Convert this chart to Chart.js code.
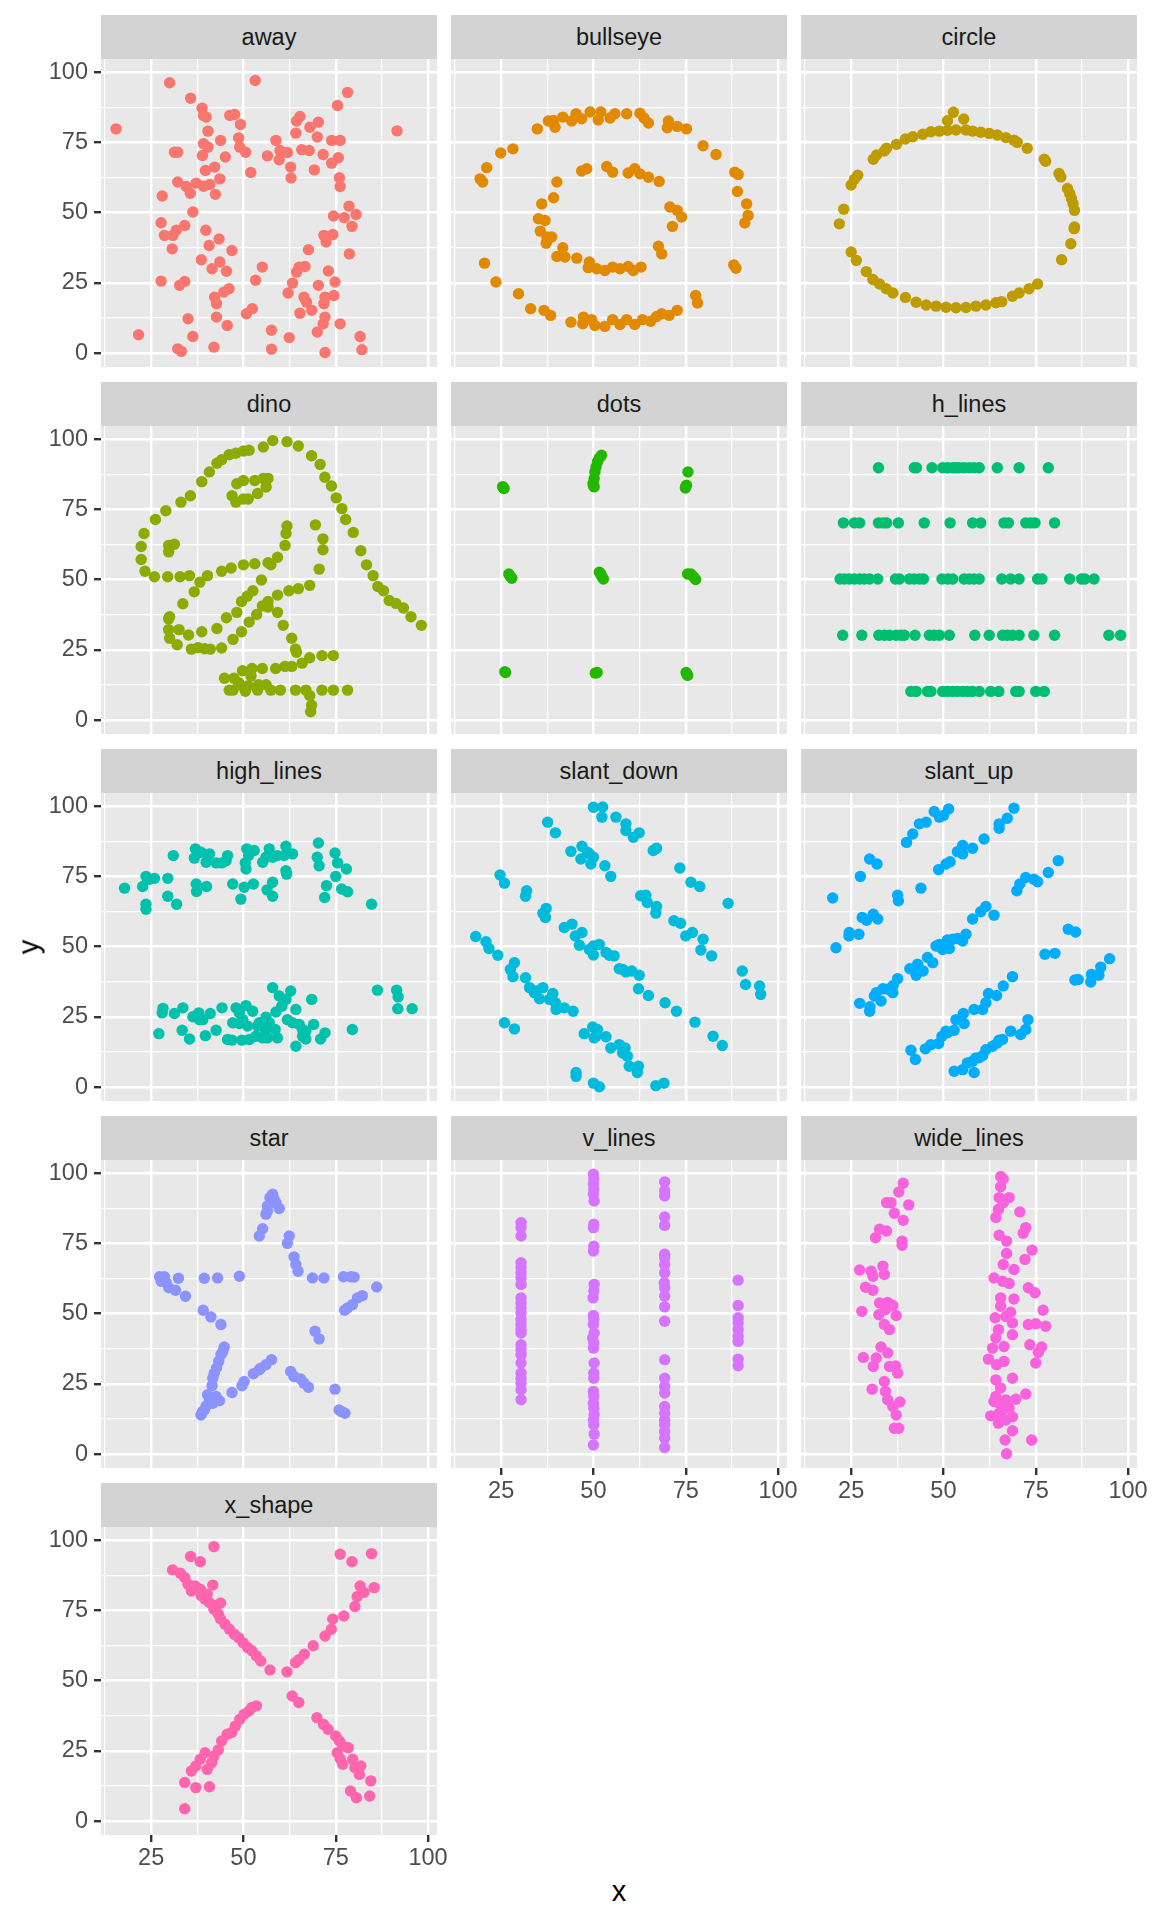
<!DOCTYPE html>
<html>
<head>
<meta charset="utf-8">
<script src="https://cdn.jsdelivr.net/npm/chart.js@4.4.1/dist/chart.umd.min.js"></script>
<style>
  html, body { margin: 0; padding: 0; background: #fff; }
  #page { position: relative; width: 1152px; height: 1920px; font-family: "Liberation Sans", Arial, sans-serif; overflow: hidden; }
  .strip { position: absolute; background: #D3D3D3; color: #1A1A1A; font-size: 23.5px; text-align: center; }
  canvas { position: absolute; }
  .axis-title { position: absolute; color: #000; font-size: 29px; line-height: 1; }
</style>
</head>
<body>
<div id="page"></div>
<script>
// facet names, in panel order
const panels = ['away', 'bullseye', 'circle', 'dino', 'dots', 'h_lines', 'high_lines',
  'slant_down', 'slant_up', 'star', 'v_lines', 'wide_lines', 'x_shape'];

const xTicks = [25, 50, 75, 100];
const yTicks = [0, 25, 50, 75, 100];

// points as [x, y]
const away = [[15.5,79.8],[21.6,6.5],[30.0,96.2],[35.7,90.7],[38.8,87.2],[39.2,84.6],[39.9,84.0],[40.4,79.0],[39.2,74.5],[40.4,73.3],[38.9,70.3],[39.7,65.0],[42.2,66.2],[43.6,62.0],[42.4,56.5],[43.8,75.7],[45.1,69.8],[46.3,84.6],[47.6,84.9],[49.2,81.4],[48.7,76.6],[49.0,73.3],[50.6,71.5],[52.0,64.3],[53.2,97.0],[56.5,70.2],[58.8,75.7],[59.9,72.1],[59.7,68.8],[61.9,71.4],[62.8,66.2],[62.9,62.3],[64.2,78.3],[65.3,84.2],[64.4,82.6],[65.8,72.4],[67.8,72.1],[68.0,80.4],[70.3,82.2],[70.0,76.9],[69.2,65.2],[71.6,70.7],[73.9,75.7],[76.2,75.7],[73.9,67.6],[75.7,69.5],[75.5,88.1],[78.2,92.8],[76.0,62.4],[76.2,59.3],[78.6,52.3],[80.5,49.3],[77.3,48.2],[79.4,45.1],[74.4,48.8],[78.7,35.3],[73.0,29.2],[74.2,42.2],[72.4,39.5],[71.8,41.9],[74.8,25.3],[74.5,20.5],[72.1,19.9],[71.8,17.6],[70.3,24.1],[67.6,36.8],[66.7,30.8],[65.1,30.6],[64.4,28.8],[63.3,24.9],[62.1,21.4],[66.4,19.9],[67.1,18.1],[65.3,14.2],[68.5,15.2],[72.1,12.8],[71.6,10.4],[70.0,7.5],[72.1,0.2],[76.2,10.4],[81.6,5.9],[82.1,1.2],[62.4,5.5],[57.6,8.1],[57.6,1.4],[50.8,14.0],[52.4,15.8],[55.1,30.6],[53.3,25.9],[46.9,36.5],[45.4,29.1],[43.6,32.4],[41.5,30.0],[38.6,33.2],[40.7,38.3],[39.8,43.7],[43.4,40.6],[42.2,19.9],[42.7,17.6],[44.7,21.7],[46.1,22.9],[42.7,12.8],[45.6,9.8],[42.0,2.1],[36.3,5.9],[35.0,12.2],[33.2,0.6],[32.2,1.5],[32.7,24.1],[34.1,25.5],[27.7,25.6],[30.7,37.1],[30.9,41.9],[28.6,41.9],[27.7,46.4],[31.8,43.7],[34.1,45.4],[28.0,55.9],[32.2,60.9],[34.5,59.3],[35.6,56.9],[36.3,50.2],[37.2,60.5],[39.2,59.4],[40.9,60.0],[31.3,71.5],[32.2,71.5],[91.6,79.1]];

const bullseye = [[34.8,79.8],[37.8,82.6],[39.6,80.4],[39.2,82.8],[41.7,84.0],[44.1,82.6],[45.3,85.2],[46.8,83.4],[49.1,85.8],[51.3,83.0],[52.0,85.8],[54.5,83.7],[55.8,85.2],[59.0,85.2],[62.6,85.4],[63.7,83.7],[64.9,81.9],[70.3,82.6],[70.0,80.2],[72.7,80.7],[75.2,79.8],[79.7,73.8],[83.2,70.7],[88.3,64.4],[89.2,63.6],[89.0,57.5],[91.5,53.1],[91.9,49.0],[91.0,46.3],[88.0,31.4],[88.6,30.2],[77.7,20.5],[78.2,17.8],[72.7,15.2],[70.5,13.4],[68.5,14.0],[67.1,13.0],[65.5,11.3],[63.3,11.9],[61.2,10.2],[59.0,11.9],[57.2,10.2],[55.2,11.9],[53.1,9.5],[50.4,9.8],[49.5,11.9],[47.3,12.8],[47.1,10.4],[43.9,11.0],[38.4,13.4],[36.6,15.2],[33.0,15.8],[29.7,21.1],[23.6,25.3],[20.5,32.0],[20.0,60.9],[19.3,62.0],[21.1,66.0],[24.9,71.2],[28.2,72.7],
  [40.1,60.9],[39.2,55.3],[36.0,53.1],[35.1,47.8],[36.9,47.2],[35.6,43.4],[37.4,41.3],[38.7,41.3],[37.2,39.1],[40.1,34.4],[41.7,37.5],[42.3,34.2],[45.5,33.8],[48.9,32.4],[48.6,30.4],[50.9,30.0],[53.1,29.4],[55.2,30.6],[57.2,30.0],[59.4,30.8],[60.8,29.4],[62.9,30.6],[67.6,38.0],[68.5,35.3],[71.4,45.1],[73.9,48.4],[70.7,52.0],[72.7,50.8],[67.8,61.1],[64.9,62.6],[62.6,63.8],[61.2,65.6],[59.4,64.1],[55.2,64.4],[53.6,66.4],[48.2,65.6],[46.8,64.8]];

const circle = [[52.7,85.7],[55.5,83.3],[51.1,82.7],[37.3,74.3],[34.6,72.9],[34.0,71.9],[31.9,70.5],[31.0,69.0],[39.7,76.2],[41.7,77.0],[44.4,77.9],[46.6,78.8],[48.9,79.0],[51.1,79.3],[53.4,79.4],[56.1,79.4],[57.9,79.0],[60.1,78.6],[62.4,78.2],[64.6,77.6],[66.9,76.7],[69.1,75.8],[70.0,75.0],[72.7,72.9],[77.3,69.0],[77.7,68.3],[81.3,63.9],[81.8,62.7],[83.6,58.6],[84.2,56.8],[84.7,55.0],[85.1,53.2],[85.5,50.8],[85.5,44.9],[85.4,44.3],[84.5,38.9],[82.0,33.2],[26.8,63.3],[25.9,61.9],[25.0,59.8],[23.0,51.2],[21.8,46.0],[25.0,36.0],[26.4,33.0],[29.1,29.0],[30.9,26.2],[32.7,24.6],[34.5,22.9],[36.3,21.4],[39.7,19.8],[42.6,18.1],[45.3,17.1],[48.0,16.7],[50.7,16.3],[53.4,16.1],[56.1,16.2],[58.8,16.7],[61.5,17.1],[64.2,17.9],[65.8,18.3],[68.7,20.2],[70.5,21.4],[73.2,22.9],[75.5,24.6]];

const dino = [[55.3846,97.1795],[51.5385,96.0256],[46.1538,94.4872],[42.8205,91.4103],[40.7692,88.3333],[38.7179,84.8718],[35.641,79.8718],[33.0769,77.5641],[28.9744,74.4872],[26.1538,71.4103],[23.0769,66.4103],[22.3077,61.7949],[22.3077,57.1795],[23.3333,52.9487],[25.8974,51.0256],[29.4872,51.0256],[32.8205,51.0256],[35.3846,51.4103],[40.2564,51.4103],[44.1026,52.9487],[46.6667,54.1026],[50.0,55.2564],[53.0769,55.641],[56.6667,56.0256],[59.2308,57.9487],[61.2821,62.1795],[61.5385,66.4103],[61.7949,69.1026],[57.4359,55.2564],[54.8718,49.8718],[52.5641,46.0256],[48.2051,38.3333],[49.4872,42.1795],[51.0256,44.1026],[45.3846,36.4103],[42.8205,32.5641],[38.7179,31.4103],[35.1282,30.2564],[32.5641,32.1795],[30.0,36.7949],[33.5897,41.4103],[36.6667,45.641],[38.2051,49.1026],[29.7436,36.0256],[29.7436,32.1795],[30.0,29.1026],[32.0513,26.7949],[35.8974,25.2564],[41.0256,25.2564],[44.1026,25.641],[47.1795,28.718],[49.4872,31.4103],[51.5385,34.8718],[53.5897,37.5641],[55.1282,40.641],[56.6667,42.1795],[59.2308,44.4872],[62.3077,46.0256],[64.8718,46.7949],[67.9487,47.9487],[70.5128,53.718],[71.5385,60.641],[71.5385,64.4872],[69.4872,69.4872],[46.9231,79.8718],[48.2051,84.1026],[50.0,85.2564],[53.0769,85.2564],[55.3846,86.0256],[56.6667,86.0256],[56.1538,82.9487],[53.8462,80.641],[51.2821,78.718],[50.0,78.718],[47.9487,77.5641],[29.7436,59.8718],[29.7436,62.1795],[31.2821,62.5641],[57.9487,99.4872],[61.7949,99.1026],[64.8718,97.5641],[68.4615,94.1026],[70.7692,91.0256],[72.0513,86.4103],[73.8462,83.3333],[75.1282,79.1026],[76.6667,75.2564],[77.6923,71.4103],[79.7436,66.7949],[81.7949,60.2564],[83.3333,55.2564],[85.1282,51.4103],[86.4103,47.5641],[87.9487,46.0256],[89.4872,42.5641],[93.3333,39.8718],[95.3846,36.7949],[98.2051,33.718],[56.6667,40.2564],[59.2308,38.3333],[60.7692,33.718],[63.0769,29.1026],[64.1026,25.2564],[64.359,24.1026],[74.359,22.9487],[71.2821,22.9487],[67.9487,22.1795],[65.8974,20.2564],[63.0769,19.1026],[61.2821,19.1026],[58.7179,18.3333],[55.1282,18.3333],[52.3077,18.3333],[49.7436,17.5641],[47.4359,14.8718],[44.8718,14.8718],[48.7179,12.5641],[51.2821,12.1795],[54.1026,12.5641],[56.1538,12.5641],[52.0513,15.641],[48.7179,13.3333],[47.1795,10.641],[46.1538,10.641],[50.5128,10.2564],[53.8462,10.641],[57.4359,10.641],[60.0,10.641],[64.1026,10.641],[66.9231,10.641],[71.2821,10.641],[74.359,10.641],[78.2051,10.641],[67.9487,8.718],[68.4615,5.2564],[68.2051,2.9487],[37.6923,25.7692],[39.4872,25.3846],[91.2821,41.5385],[50.0,95.7692],[47.9487,95.0],[44.1026,92.6923]];

const dots = [[25.6,82.7],[25.4,83.1],[25.8,82.4],[50.2,83.0],[49.9,84.2],[50.2,86.0],[50.4,88.3],[50.7,90.1],[51.1,91.9],[51.6,93.3],[52.2,94.3],[50.0,83.5],[75.6,88.3],[75.0,83.0],[75.2,83.6],[74.9,82.6],[27.1,52.0],[27.4,51.2],[27.9,50.5],[51.6,52.6],[52.0,52.0],[52.7,50.2],[52.3,51.0],[75.5,52.0],[76.4,52.0],[77.1,51.0],[77.7,50.0],[26.2,16.9],[26.0,17.2],[50.5,16.7],[51.0,16.9],[75.3,16.3],[75.1,16.9],[75.5,15.9]];

const hLines = [[32.4,89.8],[42.1,89.8],[42.7,89.8],[46.9,89.8],[49.8,89.8],[51.1,89.8],[52.5,89.8],[53.4,89.8],[54.3,89.8],[55.6,89.8],[57.0,89.8],[58.3,89.8],[59.7,89.8],[64.6,89.8],[70.5,89.8],[78.4,89.8],
  [22.9,70.2],[25.9,70.2],[27.3,70.2],[32.4,70.2],[33.6,70.2],[34.6,70.2],[37.8,70.2],[44.8,70.2],[51.8,70.2],[57.9,70.2],[60.1,70.2],[66.4,70.2],[67.6,70.2],[72.3,70.2],[73.6,70.2],[74.8,70.2],[80.1,70.2],
  [22.0,50.2],[23.2,50.2],[24.5,50.2],[25.9,50.2],[27.3,50.2],[28.6,50.2],[30.0,50.2],[32.2,50.2],[37.0,50.2],[38.1,50.2],[40.8,50.2],[42.1,50.2],[43.5,50.2],[44.6,50.2],[49.6,50.2],[51.2,50.2],[52.5,50.2],[55.6,50.2],[57.0,50.2],[58.3,50.2],[59.7,50.2],[65.8,50.2],[68.2,50.2],[70.5,50.2],[75.5,50.2],[76.7,50.2],[84.2,50.2],[87.4,50.2],[88.3,50.2],[90.8,50.2],
  [22.7,30.2],[27.9,30.2],[32.5,30.2],[34.0,30.2],[35.4,30.2],[37.2,30.2],[38.5,30.2],[39.4,30.2],[42.3,30.2],[46.2,30.2],[47.5,30.2],[48.9,30.2],[51.6,30.2],[58.5,30.2],[62.4,30.2],[66.0,30.2],[67.3,30.2],[68.7,30.2],[70.5,30.2],[74.5,30.2],[80.1,30.2],[94.8,30.2],[98.0,30.2],
  [41.2,10.2],[42.6,10.2],[45.7,10.2],[46.6,10.2],[49.8,10.2],[51.1,10.2],[52.5,10.2],[53.8,10.2],[55.2,10.2],[56.5,10.2],[57.9,10.2],[59.7,10.2],[62.8,10.2],[65.0,10.2],[69.6,10.2],[70.5,10.2],[75.0,10.2],[77.3,10.2]];

const highLines = [[17.8,70.8],[22.7,71.4],[23.6,75.0],[24.5,74.0],[25.9,74.3],[29.5,74.3],[23.6,65.1],[23.6,63.3],[29.5,67.9],[31.9,65.1],[31.0,82.4],[37.0,84.8],[36.7,81.5],[38.5,83.6],[39.9,80.0],[40.8,83.0],[42.6,79.8],[44.2,79.8],[45.7,82.4],[45.3,80.6],[37.2,72.3],[37.3,69.6],[40.0,71.4],[47.1,72.3],[49.3,66.9],[50.2,71.1],[52.7,72.3],[50.9,84.8],[50.7,77.6],[50.5,79.8],[51.4,82.4],[52.9,84.2],[55.2,80.0],[56.1,81.8],[57.0,84.8],[57.9,81.8],[59.2,82.4],[61.5,85.7],[61.0,82.4],[63.3,83.0],[61.7,75.8],[61.5,77.0],[56.4,70.2],[57.9,72.9],[57.9,67.9],[70.3,86.9],[70.0,81.8],[70.5,78.8],[74.8,83.3],[75.5,79.8],[77.9,77.6],[75.0,75.0],[72.5,71.7],[72.0,67.5],[76.6,70.5],[78.2,69.5],[84.7,65.1],
  [27.1,19.0],[28.2,28.0],[28.0,26.4],[31.3,26.2],[33.6,28.2],[33.4,20.2],[35.4,17.1],[36.3,25.0],[37.9,26.4],[39.0,24.0],[39.7,18.3],[41.0,26.2],[42.6,20.2],[44.2,28.2],[45.7,16.9],[46.9,16.7],[48.0,28.2],[48.9,26.4],[48.9,22.6],[49.6,16.7],[50.7,29.0],[52.5,27.0],[51.1,21.7],[51.6,16.9],[53.4,18.1],[55.2,17.5],[56.1,24.9],[55.9,20.5],[57.0,22.9],[57.9,35.4],[59.7,32.4],[58.8,26.7],[60.4,28.8],[61.5,31.2],[62.8,34.2],[58.6,20.5],[59.2,17.5],[61.9,24.0],[64.2,27.6],[65.1,22.3],[66.0,18.1],[64.2,14.5],[66.9,17.1],[68.5,31.2],[69.0,22.3],[66.9,19.9],[70.9,17.1],[72.1,19.3],[79.5,20.5],[86.3,34.5],[91.5,34.5],[91.9,32.1],[91.8,27.9],[95.7,27.9],
  [47.1,22.9],[49.8,24.0],[54.3,22.9],[56.5,17.5],[53.8,21.7],[38.1,24.0],[63.3,22.9],[66.0,20.5]];

const slantDown = [[50.0,99.6],[52.5,99.7],[52.3,96.1],[56.1,96.1],[58.8,93.7],[58.8,91.3],[60.8,88.9],[62.4,90.5],[66.2,84.2],[67.1,85.0],[73.4,78.0],[76.4,72.9],[78.8,71.4],[86.5,65.4],
  [37.6,94.3],[39.7,90.5],[43.9,83.9],[46.9,85.7],[46.6,81.2],[48.9,83.0],[49.3,79.4],[50.0,81.8],[48.4,83.6],[53.1,78.8],[54.7,75.0],[62.8,68.1],[64.2,68.3],[64.6,65.7],[67.1,64.3],[66.9,61.9],[71.8,59.2],[73.6,58.3],[75.0,53.8],[76.8,55.0],[79.7,52.6],[79.1,48.8],[82.0,46.7],[90.3,41.3],[91.2,36.5],[95.0,36.0],[95.3,33.0],
  [24.7,75.5],[25.9,72.6],[31.9,69.9],[31.6,67.9],[37.2,63.6],[36.3,61.9],[37.0,60.4],[42.1,56.8],[44.2,58.0],[46.9,55.0],[45.1,53.8],[46.2,50.5],[50.0,50.2],[51.6,50.8],[50.0,47.0],[48.9,49.0],[53.4,47.9],[54.3,46.9],[55.6,46.7],[57.0,42.1],[57.9,41.9],[58.8,41.0],[60.4,41.3],[62.4,39.8],[62.2,35.0],[64.9,32.6],[69.4,30.0],[72.5,27.0],[77.5,23.1],[82.4,18.1],[84.9,14.8],
  [18.1,53.6],[20.9,51.7],[21.7,49.3],[24.1,46.9],[28.6,44.3],[27.5,41.9],[28.2,39.3],[31.6,38.9],[32.7,35.4],[34.6,34.2],[34.0,33.6],[36.3,35.4],[35.4,31.4],[39.0,33.3],[38.1,31.2],[39.7,30.0],[39.9,27.6],[42.1,28.2],[44.5,27.0],[25.9,22.9],[28.6,20.7],[47.5,19.0],[49.8,21.4],[51.1,20.5],[50.2,17.5],[50.7,18.1],[53.4,17.9],[54.7,13.9],[57.0,15.1],[58.6,13.9],[57.9,12.1],[59.2,11.0],[59.7,7.4],[62.2,7.4],[61.9,5.2],[45.3,5.2],[45.3,3.8],[50.0,1.4],[51.6,0.1],[66.9,0.5],[69.1,1.4]];

const slantUp = [[40.0,87.1],[41.7,90.1],[43.5,93.7],[45.3,94.3],[47.5,98.1],[48.9,96.1],[51.4,99.0],[50.0,96.7],
  [48.7,77.4],[50.7,79.4],[51.8,80.2],[53.8,83.8],[55.2,86.0],[55.2,83.0],[57.9,85.0],[61.0,88.3],[65.1,92.1],[65.1,93.7],[67.3,95.7],[69.1,99.3],
  [69.9,69.9],[70.7,72.3],[72.3,74.6],[74.5,74.0],[75.5,73.1],[78.4,76.4],[81.1,80.6],
  [20.0,67.3],[20.9,49.6],[24.4,53.8],[24.5,55.0],[27.1,54.4],[28.0,60.4],[29.2,59.4],[31.0,61.5],[32.2,59.8],[27.5,75.0],[30.0,81.2],[32.0,79.4],[37.6,68.3],[37.8,66.3],[43.9,70.8],
  [27.3,29.8],[30.0,27.0],[30.1,28.6],[31.3,32.4],[31.8,33.6],[33.1,30.6],[33.6,35.0],[34.9,34.8],[36.3,33.6],[36.4,36.2],[37.6,38.6],[40.9,42.1],[42.6,39.8],[43.0,43.7],[44.5,41.3],[45.7,46.1],[47.1,44.3],[48.0,50.2],[48.9,50.8],[49.8,49.0],[50.2,50.2],[51.1,52.4],[51.6,49.3],[52.5,52.6],[53.8,52.9],[55.2,52.0],[56.1,54.4],[57.9,59.8],[60.1,62.4],[61.5,64.3],[63.7,61.2],
  [77.5,47.3],[80.2,47.6],[83.8,56.2],[85.8,55.2],[85.6,38.1],[86.5,38.3],[89.9,37.4],[90.1,40.1],[92.1,39.8],[92.6,42.7],[95.0,45.7],
  [41.2,13.1],[42.4,9.8],[45.1,13.6],[46.6,15.1],[48.7,15.5],[49.6,18.1],[50.7,19.9],[51.1,19.3],[52.9,20.2],[53.4,24.0],[55.4,26.2],[55.6,22.6],[58.3,27.6],[60.6,27.6],[61.5,30.0],[62.2,33.3],[64.4,32.6],[66.2,36.0],[68.7,39.3],
  [52.9,5.6],[55.2,6.2],[56.5,8.6],[57.9,9.2],[58.3,5.2],[58.8,10.4],[59.7,10.4],[60.6,11.2],[61.5,13.3],[63.3,14.5],[64.6,15.7],[65.1,16.7],[66.0,16.9],[68.2,19.9],[70.9,18.7],[72.3,20.5],[72.9,24.0]];

const star = [[57.9,92.5],[57.2,91.3],[58.3,90.7],[56.5,88.3],[59.7,87.4],[56.1,85.4],[56.5,86.5],[58.8,89.5],[55.2,80.2],[54.3,77.6],[62.4,77.6],[61.9,75.0],[63.7,70.2],[64.2,67.5],[64.8,65.1],
  [27.3,63.1],[28.6,63.1],[28.2,62.4],[27.7,61.5],[29.1,61.0],[29.8,59.2],[31.6,58.3],[32.4,62.6],[34.3,56.2],[39.4,62.6],[43.0,62.7],[48.9,63.3],
  [68.7,62.7],[71.8,62.7],[77.1,63.1],[80.0,63.0],[79.1,63.1],[86.1,59.5],[82.2,56.4],[80.9,55.6],[79.5,53.2],[78.2,52.0],[77.4,51.2],
  [39.1,51.2],[41.2,48.8],[43.9,46.1],[69.4,43.7],[70.5,41.0],
  [44.8,38.1],[44.4,36.5],[43.9,35.4],[43.3,33.0],[42.7,30.6],[42.1,28.8],[41.7,27.0],[41.5,24.3],[40.3,21.1],[42.6,20.5],[43.5,19.0],[40.8,19.3],[41.7,18.1],[39.9,17.1],[38.5,13.9],[39.4,15.7],[38.9,15.1],
  [46.9,21.9],[49.6,24.3],[50.2,25.8],[52.7,28.6],[54.3,30.0],[54.7,30.6],[56.1,31.8],[57.6,33.6],
  [62.8,29.4],[63.7,27.6],[65.5,26.7],[66.4,25.2],[67.6,23.8],[74.8,23.1],[75.9,15.7],[76.6,15.1],[77.5,14.5]];

const vLines = [[30.4,82.4],[30.4,80.6],[30.4,77.6],[30.4,68.1],[30.4,66.3],[30.4,64.5],[30.4,62.7],[30.4,60.4],[30.4,55.6],[30.4,53.8],[30.4,52.0],[30.4,50.2],[30.4,47.9],[30.4,46.1],[30.4,44.3],[30.4,43.1],[30.4,38.9],[30.4,37.1],[30.4,35.4],[30.4,32.4],[30.4,28.8],[30.4,27.0],[30.4,25.2],[30.4,22.9],[30.4,19.3],
  [50.0,99.6],[50.1,97.9],[50.0,96.1],[50.1,94.3],[50.0,92.5],[50.2,90.1],[50.1,81.8],[50.0,80.6],[50.1,74.0],[50.0,72.3],[50.2,60.4],[50.1,58.0],[49.9,55.6],[50.0,49.3],[50.1,47.9],[50.0,46.1],[50.2,43.1],[49.8,41.3],[50.1,39.5],[50.0,37.7],[50.2,32.4],[50.1,28.8],[50.1,27.0],[50.0,22.3],[50.1,20.5],[50.0,18.1],[50.1,16.3],[50.2,14.0],[50.0,12.1],[50.1,10.4],[50.2,7.1],[50.0,3.2],
  [69.3,96.9],[69.3,93.7],[69.3,91.9],[69.3,84.4],[69.3,81.4],[69.3,71.1],[69.3,69.9],[69.3,67.5],[69.3,64.5],[69.2,61.0],[69.3,59.2],[69.3,56.2],[69.3,52.4],[69.3,47.3],[69.3,33.6],[69.3,27.0],[69.3,24.0],[69.3,21.7],[69.3,16.9],[69.3,14.5],[69.3,12.1],[69.3,10.4],[69.3,8.0],[69.3,5.6],[69.3,2.3],
  [89.2,61.9],[89.2,52.9],[89.2,48.5],[89.2,46.7],[89.2,44.3],[89.2,41.9],[89.2,40.1],[89.2,33.8],[89.2,31.4]];

const wideLines = [[39.1,96.4],[37.9,93.3],[34.6,89.5],[35.8,89.5],[40.6,88.7],[36.7,85.7],[39.1,83.2],[32.7,80.0],[34.6,79.4],[31.6,77.0],[38.8,75.8],[38.8,74.3],[27.3,65.5],[30.4,65.1],[33.6,66.9],[34.0,63.9],[30.9,63.3],[28.9,59.4],[30.9,58.3],[32.7,53.8],[34.9,54.0],[36.3,52.9],[27.9,50.8],[32.5,49.6],[34.3,51.4],[37.2,49.3],[34.0,46.1],[35.4,44.3],[33.1,38.1],[34.9,36.0],[28.3,34.4],[31.8,34.2],[31.0,31.2],[35.4,31.2],[37.0,31.4],[37.6,28.8],[34.0,25.8],[30.7,23.1],[34.3,22.3],[34.9,19.3],[38.2,18.5],[36.3,16.9],[37.2,13.9],[36.7,9.2],[37.9,9.2],
  [65.5,98.8],[66.2,97.9],[65.5,95.2],[65.1,91.3],[67.8,91.3],[66.2,89.5],[64.9,87.1],[64.2,84.2],[70.7,86.2],[72.3,80.6],[71.6,78.6],[65.1,77.9],[67.1,75.8],[74.0,72.6],[67.1,71.4],[72.1,69.3],[66.2,67.5],[69.1,65.7],[63.7,62.7],[66.0,61.5],[67.8,60.7],[73.0,59.2],[74.8,57.4],[65.5,55.6],[69.1,55.2],[65.5,52.6],[68.2,50.5],[77.0,51.2],[64.0,48.5],[66.9,49.0],[68.7,46.7],[73.0,46.1],[75.0,46.4],[77.7,45.5],[64.9,44.3],[68.7,42.5],[64.2,41.3],[73.4,38.9],[76.6,38.1],[63.3,37.7],[66.4,38.3],[75.7,36.2],[62.2,33.8],[64.4,31.8],[66.4,33.0],[75.0,32.4],[64.2,26.4],[68.7,27.0],[65.5,23.5],[72.3,21.4],[63.7,18.7],[65.1,18.1],[66.9,19.3],[69.6,19.5],[62.8,13.6],[65.1,14.5],[68.7,13.3],[64.9,11.0],[66.9,12.1],[68.7,8.3],[66.7,5.0],[73.9,5.0],[67.1,0.1],[66.0,15.7],[64.2,20.5],[67.8,16.3]];

const xShape = [[30.8,89.4],[32.9,88.2],[34.1,86.7],[35.0,84.3],[35.9,81.9],[36.9,83.7],[38.3,82.5],[38.6,80.2],[39.6,79.0],[40.2,80.8],[40.8,77.8],[41.7,84.0],[42.0,75.4],[42.6,76.6],[43.8,77.6],[43.2,73.6],[43.8,71.9],[45.0,70.1],[46.2,68.3],[47.5,66.5],[48.7,65.3],[49.9,63.5],[51.1,61.8],[52.3,60.6],[53.5,58.8],[54.7,57.0],[57.2,53.8],[35.7,94.2],[38.3,92.3],[42.0,97.7],
  [61.8,53.1],[64.1,56.4],[65.0,57.4],[66.5,59.4],[68.9,62.4],[72.1,65.9],[73.8,68.3],[74.2,71.9],[77.2,73.0],[80.2,76.4],[80.8,79.9],[82.6,81.4],[81.6,83.7],[85.4,83.1],[76.2,95.0],[79.4,92.3],[84.7,95.2],
  [34.1,4.4],[34.1,13.7],[37.1,11.9],[35.9,17.8],[37.1,19.6],[38.3,22.0],[39.6,24.3],[40.2,18.4],[40.8,12.2],[41.4,20.8],[42.0,23.2],[43.2,25.3],[44.1,28.5],[45.6,30.9],[46.8,31.5],[47.8,33.8],[49.0,36.2],[50.2,38.0],[51.5,39.2],[52.3,40.4],[53.5,41.0],
  [63.2,44.5],[65.0,42.2],[69.9,36.8],[71.7,34.4],[72.9,32.7],[75.0,30.3],[76.0,28.5],[76.9,26.7],[78.4,26.1],[75.4,24.3],[76.2,22.2],[76.9,20.2],[79.6,22.0],[80.2,19.0],[81.8,19.6],[81.4,16.6],[84.5,14.3],[79.0,10.7],[80.6,8.3],[84.2,8.9]];

const panelData = [away, bullseye, circle, dino, dots, hLines, highLines,
  slantDown, slantUp, star, vLines, wideLines, xShape];

// ggplot2 hue palette for 13 levels
const palette = ['#F8766D', '#E18A00', '#BE9C00', '#8CAB00', '#24B700', '#00BE70', '#00C1AB',
  '#00BBDA', '#00ACFC', '#8B93FF', '#D575FE', '#F962DD', '#FF65AC'];

// scale limits (data range plus 5%)
const X_MIN = 11.42, X_MAX = 102.43;
const Y_MIN = -4.97, Y_MAX = 104.68;

// layout, in pixels
const COL_LEFT = [101, 451, 801];
const PANEL_W = 336;
const ROW_STEP = 367;
const STRIP_TOP = 15, STRIP_H = 44;
const PLOT_TOP = 59, PLOT_H = 308;
const PAD = 24;
const X_AXIS_H = 52;
const TICK_FONT = 23.5;

const FONT = '"Liberation Sans", Arial, sans-serif';
Chart.defaults.font.family = FONT;

const isMajor = v => v % 25 === 0;
const gridVals = (lo, hi) => {
  const out = [];
  for (let v = -12.5; v <= 112.5; v += 12.5) if (v >= lo && v <= hi) out.push(v);
  return out;
};

const panelBg = {
  id: 'panelBg',
  beforeDraw(chart) {
    const { ctx, chartArea: a } = chart;
    ctx.save();
    ctx.fillStyle = '#E8E8E8';
    ctx.fillRect(a.left, a.top, a.right - a.left, a.bottom - a.top);
    ctx.restore();
  }
};

const page = document.getElementById('page');

function gridOptions(show) {
  return {
    color: '#FFFFFF',
    lineWidth: c => (c.tick && isMajor(c.tick.value)) ? 2.4 : 1.2,
    drawTicks: show,
    tickLength: 7,
    tickWidth: 2.4,
    tickColor: c => (c.tick && isMajor(c.tick.value)) ? '#333333' : 'rgba(0,0,0,0)'
  };
}

panels.forEach((name, i) => {
  const row = Math.floor(i / 3), col = i % 3;
  const showY = col === 0;
  const showX = i + 3 >= panels.length;
  const plotTop = PLOT_TOP + row * ROW_STEP;

  // strip
  const strip = document.createElement('div');
  strip.className = 'strip';
  strip.style.left = COL_LEFT[col] + 'px';
  strip.style.top = (STRIP_TOP + row * ROW_STEP) + 'px';
  strip.style.width = PANEL_W + 'px';
  strip.style.height = STRIP_H + 'px';
  strip.style.lineHeight = STRIP_H + 'px';
  strip.textContent = name;
  page.appendChild(strip);

  // chart canvas
  const canvas = document.createElement('canvas');
  const left = showY ? 0 : COL_LEFT[col] - PAD;
  const width = showY ? COL_LEFT[0] + PANEL_W + PAD : PANEL_W + 2 * PAD;
  const height = PAD + PLOT_H + (showX ? X_AXIS_H : PAD);
  canvas.width = width;
  canvas.height = height;
  canvas.style.left = left + 'px';
  canvas.style.top = (plotTop - PAD) + 'px';
  canvas.style.width = width + 'px';
  canvas.style.height = height + 'px';
  page.appendChild(canvas);

  new Chart(canvas.getContext('2d'), {
    type: 'scatter',
    data: {
      datasets: [{
        label: name,
        data: panelData[i].map(p => ({ x: p[0], y: p[1] })),
        backgroundColor: palette[i],
        borderWidth: 0,
        pointRadius: 5.7,
        pointHoverRadius: 5.7
      }]
    },
    options: {
      responsive: false,
      animation: false,
      layout: { padding: { left: showY ? 0 : PAD, right: PAD, top: PAD, bottom: showX ? 0 : PAD } },
      plugins: { legend: { display: false }, tooltip: { enabled: false } },
      scales: {
        x: {
          type: 'linear',
          min: X_MIN,
          max: X_MAX,
          afterBuildTicks: s => { s.ticks = gridVals(X_MIN, X_MAX).map(v => ({ value: v })); },
          afterFit: s => { s.height = showX ? X_AXIS_H : 0; },
          border: { display: false },
          grid: gridOptions(showX),
          ticks: {
            display: showX,
            autoSkip: false,
            maxRotation: 0,
            padding: 2,
            color: '#4D4D4D',
            font: { family: FONT, size: TICK_FONT },
            callback: v => xTicks.includes(v) ? String(v) : ''
          }
        },
        y: {
          type: 'linear',
          min: Y_MIN,
          max: Y_MAX,
          afterBuildTicks: s => { s.ticks = gridVals(Y_MIN, Y_MAX).map(v => ({ value: v })); },
          afterFit: s => { s.width = showY ? COL_LEFT[0] : 0; },
          border: { display: false },
          grid: gridOptions(showY),
          ticks: {
            display: showY,
            autoSkip: false,
            padding: 6,
            color: '#4D4D4D',
            font: { family: FONT, size: TICK_FONT },
            callback: v => yTicks.includes(v) ? String(v) : ''
          }
        }
      }
    },
    plugins: [panelBg]
  });
});

// axis titles
const xTitle = document.createElement('div');
xTitle.className = 'axis-title';
xTitle.textContent = 'x';
xTitle.style.left = '619px';
xTitle.style.top = '1891px';
xTitle.style.transform = 'translate(-50%, -50%)';
page.appendChild(xTitle);

const yTitle = document.createElement('div');
yTitle.className = 'axis-title';
yTitle.textContent = 'y';
yTitle.style.left = '29px';
yTitle.style.top = '947px';
yTitle.style.transform = 'translate(-50%, -50%) rotate(-90deg)';
page.appendChild(yTitle);
</script>
</body>
</html>
